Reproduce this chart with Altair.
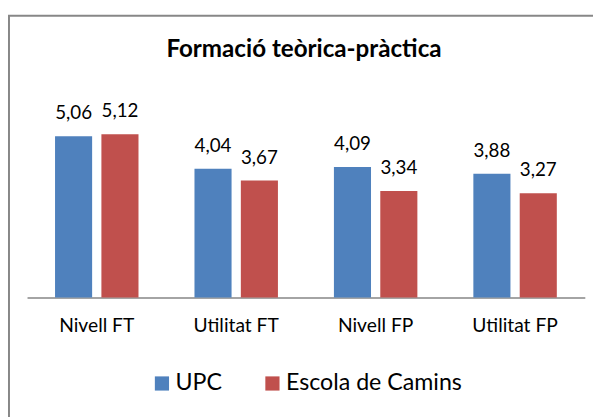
import altair as alt
import pandas as pd

categories = ["Nivell FT", "Utilitat FT", "Nivell FP", "Utilitat FP"]
series = ["UPC", "Escola de Camins"]
upc = [5.06, 4.04, 4.09, 3.88]
camins = [5.12, 3.67, 3.34, 3.27]
colors = ["#4F81BD", "#C0504D"]

rows = []
for s, vals in zip(series, [upc, camins]):
    for c, v in zip(categories, vals):
        rows.append({"cat": c, "serie": s, "value": v,
                     "label": f"{v:.2f}".replace(".", ",")})
df = pd.DataFrame(rows)

W = 565.4
H = 194
PAD = {"left": 19.3, "top": 96.7, "right": 8.3, "bottom": 118.3}
FONT = "Lato"

x_enc = alt.X("cat:N", sort=categories,
              scale=alt.Scale(paddingInner=0.4015, paddingOuter=0.2008),
              axis=alt.Axis(title=None, labelAngle=0, domainColor="#868686",
                            domainWidth=1.5, ticks=False, tickSize=0,
                            labelFontSize=19.5, labelFont=FONT, labelColor="black",
                            labelPadding=34.6, labelBaseline="alphabetic",
                            grid=False))
xo_enc = alt.XOffset("serie:N", sort=series,
                     scale=alt.Scale(paddingInner=0.2, paddingOuter=0))
y_enc = alt.Y("value:Q", scale=alt.Scale(domain=[0, 6], nice=False), axis=None)

base = alt.Chart(df)

bars = base.mark_bar().encode(
    x=x_enc, xOffset=xo_enc, y=y_enc,
    color=alt.Color("serie:N", sort=series,
                    scale=alt.Scale(domain=series, range=colors),
                    legend=alt.Legend(title=None, orient="none", legendX=125,
                                      legendY=269, direction="horizontal",
                                      symbolType="square", symbolSize=207,
                                      symbolStrokeWidth=0, symbolOpacity=1,
                                      labelFontSize=23.5, labelFont=FONT,
                                      labelColor="black", labelOffset=2,
                                      labelLimit=400,
                                      columnPadding=39, padding=0)),
)

labels = base.mark_text(baseline="alphabetic", dy=-17, fontSize=19,
                        font=FONT, color="black").encode(
    x=x_enc, xOffset=xo_enc, y=y_enc, text="label:N")

frame_df = pd.DataFrame({"k": [0]})
left_rule = alt.Chart(frame_df).mark_rule(color="#878787", strokeWidth=2).encode(
    x=alt.value(-18.3), y=alt.value(-91.7), y2=alt.value(H + 130))
top_rule = alt.Chart(frame_df).mark_rule(color="#878787", strokeWidth=2).encode(
    y=alt.value(-91.7), x=alt.value(-19.3), x2=alt.value(W + 20))

chart = alt.layer(bars, labels, left_rule, top_rule).properties(
    width=W, height=H,
    title=alt.TitleParams("Formació teòrica-pràctica", font=FONT, fontSize=24.5,
                          fontWeight="bold", color="black", anchor="middle",
                          offset=-67.5, baseline="alphabetic", frame="group",
                          dx=-2),
    autosize=alt.AutoSizeParams(type="none"),
    padding=PAD,
).configure_view(stroke=None)

chart.save("out.html", embed_options={"renderer": "svg", "actions": False})
